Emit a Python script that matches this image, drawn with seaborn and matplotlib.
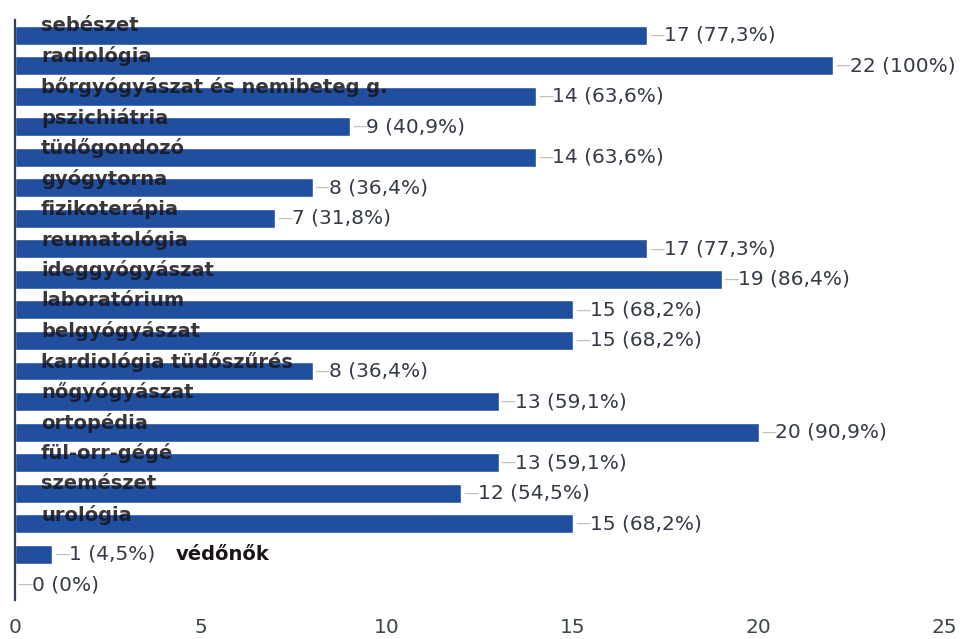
import matplotlib
matplotlib.use("Agg")
import matplotlib.pyplot as plt
import seaborn as sns
import pandas as pd

categories = [
    "sebészet", "radiológia", "bőrgyógyászat és nemibeteg g.", "pszichiátria",
    "tüdőgondozó", "gyógytorna", "fizikoterápia", "reumatológia",
    "ideggyógyászat", "laboratórium", "belgyógyászat", "kardiológia tüdőszűrés",
    "nőgyógyászat", "ortopédia", "fül-orr-gégé", "szemészet", "urológia",
    "védőnők", " ",
]
values = [17, 22, 14, 9, 14, 8, 7, 17, 19, 15, 15, 8, 13, 20, 13, 12, 15, 1, 0]
total = 22
x_ticks = [0, 5, 10, 15, 20, 25]

df = pd.DataFrame({"cat": categories, "val": values})

sns.set_style("white")
plt.rcParams["font.family"] = ["DejaVu Sans"]

fig = plt.figure(figsize=(9.7, 6.39), dpi=100)
ax = fig.add_axes([0.0155, 0.061, 0.9585, 0.908])

sns.barplot(data=df, x="val", y="cat", orient="h", color="#1f4f9e",
            saturation=1, width=0.62, ax=ax)

ax.set_xlim(0, 25)
ax.set_ylim(len(categories) - 0.5, -0.5)
ax.set_xticks(x_ticks)
ax.set_xticklabels([str(t) for t in x_ticks], fontsize=14.5, color="#3d4a44")
ax.set_yticks([])
ax.set_xlabel("")
ax.set_ylabel("")
ax.tick_params(axis="x", length=0, pad=13)
for s in ["top", "right", "bottom"]:
    ax.spines[s].set_visible(False)
ax.spines["left"].set_color("#333d55")
ax.spines["left"].set_linewidth(1.6)

def pct(v):
    p = v / total * 100
    s = f"{p:.1f}".replace(".", ",")
    if s.endswith(",0"):
        s = s[:-2]
    return s + "%"

for i, (c, v) in enumerate(zip(categories, values)):
    ax.annotate("—", xy=(v, i), xytext=(1.5, 0), textcoords="offset points",
                va="center", ha="left", fontsize=11, color="#cbbcbc")
    lab = f"{v} ({pct(v)})"
    ax.annotate(lab, xy=(v, i), xytext=(12, 0), textcoords="offset points",
                va="center", ha="left", fontsize=14.5, color="#343a46")

for i, c in enumerate(categories):
    if c.strip() == "":
        continue
    if c == "védőnők":
        ax.annotate(c, xy=(values[i], i), xytext=(89, 0), textcoords="offset points",
                    va="center", ha="left", fontsize=14, fontweight="bold",
                    color="#1a1418")
    else:
        ax.text(0.7, i - 0.3, c, va="center", ha="left", fontsize=14,
                fontweight="bold", color="#1a1418", alpha=0.85)

fig.savefig("out.png", dpi=100)
